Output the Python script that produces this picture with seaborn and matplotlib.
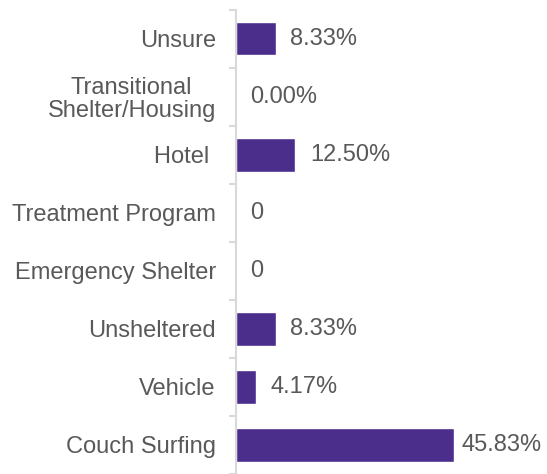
import numpy as np
import pandas as pd
import matplotlib
matplotlib.use("Agg")
import matplotlib.pyplot as plt
import seaborn as sns

# values
categories = ["Unsure", "Transitional\nShelter/Housing", "Hotel ", "Treatment Program",
              "Emergency Shelter", "Unsheltered", "Vehicle", "Couch Surfing"]
percent = [8.33, 0.00, 12.50, 0.0, 0.0, 8.33, 4.17, 45.83]
value_labels = ["8.33%", "0.00%", "12.50%", "0", "0", "8.33%", "4.17%", "45.83%"]

bar_color = "#4B2D8C"
axis_grey = "#D9D9D9"
text_grey = "#595959"

sns.set_style("white")
plt.rcParams["font.family"] = ["Liberation Sans", "DejaVu Sans"]

df = pd.DataFrame({"category": categories, "percent": percent})

fig = plt.figure(figsize=(5.47, 4.74), dpi=100)
ax = fig.add_axes([0.4314, 0.0, 0.565, 0.979])

sns.barplot(data=df, y="category", x="percent", orient="h", color=bar_color,
            width=0.57, saturation=1, ax=ax)

ax.set_xlim(0, 65)
ax.set_ylim(len(categories) - 0.5, -0.5)

# value labels to the right of the bars (long bar label sits closer, like excel)
for i, (v, lab) in enumerate(zip(percent, value_labels)):
    pad = 5.5 if v > 30 else 10.5
    ax.annotate(lab, xy=(v, i), xytext=(pad, 0), textcoords="offset points",
                va="center", ha="left", fontsize=17, color=text_grey)

# spines and ticks
for s in ["top", "right", "bottom"]:
    ax.spines[s].set_visible(False)
ax.spines["left"].set_color(axis_grey)
ax.spines["left"].set_linewidth(1.5)
ax.set_xticks([])
ax.set_xlabel("")
ax.set_ylabel("")
ax.tick_params(axis="y", which="major", left=True, length=0, pad=14.5,
               labelsize=17, labelcolor=text_grey)
ax.set_yticks(np.arange(-0.5, len(categories), 1.0), minor=True)
ax.tick_params(axis="y", which="minor", left=True, direction="out",
               length=5, width=1.5, color=axis_grey)
for lab in ax.get_yticklabels():
    lab.set_multialignment("center")
    lab.set_linespacing(1.05)

fig.savefig("out.png", dpi=100)
